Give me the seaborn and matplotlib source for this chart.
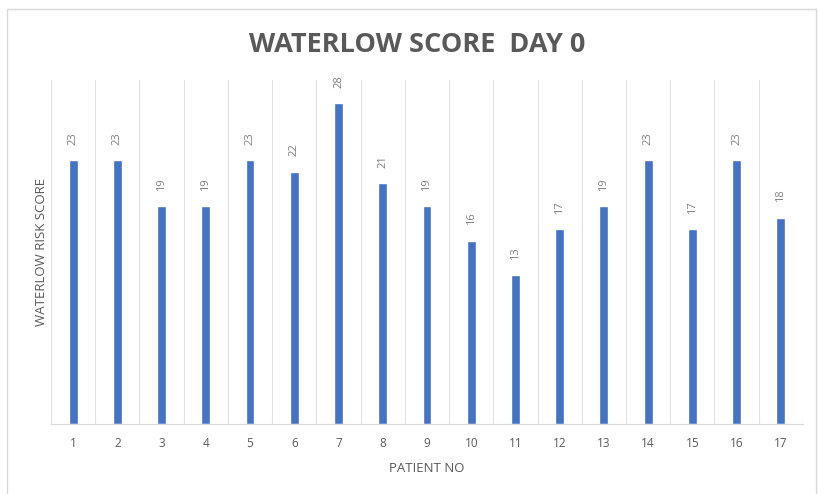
import numpy as np
import pandas as pd
import seaborn as sns
import matplotlib.pyplot as plt
from matplotlib.lines import Line2D

patients = [str(i) for i in range(1, 18)]
scores = [23, 23, 19, 19, 23, 22, 28, 21, 19, 16, 13, 17, 19, 23, 17, 23, 18]

sns.set_theme(style="white")
plt.rcParams['font.family'] = ['Open Sans', 'DejaVu Sans']

df = pd.DataFrame({"patient": patients, "score": scores})

fig = plt.figure(figsize=(8.2, 4.94), dpi=100)
ax = fig.add_axes([0.0622, 0.1417, 0.917, 0.6963])

sns.barplot(data=df, x="patient", y="score", color="#4472C4", width=0.2,
            saturation=1, ax=ax, order=patients)

ax.set_ylim(0, 30)
ax.set_xlim(-0.5, len(patients) - 0.5)
ax.set_yticks([])
ax.set_xticks(np.arange(-0.5, len(patients), 1), minor=True)
ax.grid(which='minor', axis='x', color='#e0e0e0', linewidth=0.8)
ax.grid(which='major', axis='x', visible=False)
ax.tick_params(axis='x', which='both', length=0, colors='#595959', labelsize=8.5, pad=9)
for s in ['top', 'right', 'left']:
    ax.spines[s].set_visible(False)
ax.spines['bottom'].set_color('#d9d9d9')
ax.spines['bottom'].set_linewidth(0.8)

for i, v in enumerate(scores):
    ax.annotate(str(v), (i, v), xytext=(0, 11), textcoords='offset points',
                rotation=90, ha='center', va='bottom', fontsize=8, color='#7f7f7f')

ax.set_xlabel("PATIENT NO", fontsize=9.5, color='#595959', labelpad=9)
ax.set_ylabel("WATERLOW RISK SCORE", fontsize=9.5, color='#595959', labelpad=2)

fig.text(0.509, 0.908, "WATERLOW SCORE  DAY 0", ha='center', va='center',
         fontsize=19.5, fontweight='bold', color='#595959')

# outer chart border (top, left, right)
fig.add_artist(Line2D([0.008, 0.995], [0.981, 0.981], color='#d9d9d9', lw=1, transform=fig.transFigure))
fig.add_artist(Line2D([0.008, 0.008], [0.0, 0.981], color='#d9d9d9', lw=1, transform=fig.transFigure))
fig.add_artist(Line2D([0.995, 0.995], [0.0, 0.981], color='#d9d9d9', lw=1, transform=fig.transFigure))

fig.savefig("out.png", dpi=100)
